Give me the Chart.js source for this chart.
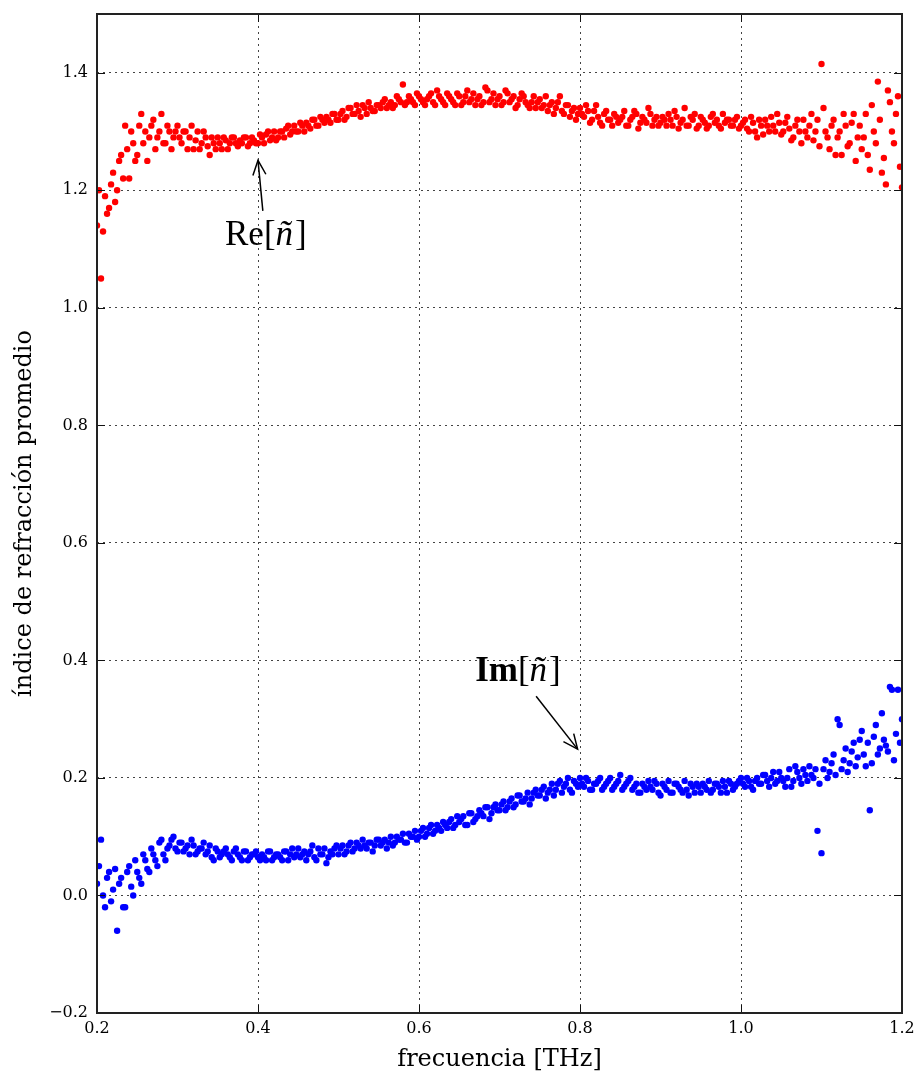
<!DOCTYPE html>
<html>
<head>
<meta charset="utf-8">
<script src="https://cdn.jsdelivr.net/npm/chart.js@4.4.1/dist/chart.umd.min.js"></script>
<style>
  body { margin: 0; background: #fff; }
  #caja { width: 919px; height: 1074px; position: relative; }
</style>
</head>
<body>
<div id="caja"><canvas id="graficoIndice"></canvas></div>
<script>
// frecuencias [THz], primer barrido
const frecuencia = [
  0.200,0.205,0.210,0.215,0.220,0.225,0.230,0.235,0.240,0.245,
  0.250,0.255,0.260,0.265,0.270,0.275,0.280,0.285,0.290,0.295,
  0.300,0.305,0.310,0.315,0.320,0.325,0.330,0.335,0.340,0.345,
  0.350,0.355,0.360,0.365,0.370,0.375,0.380,0.385,0.390,0.395,
  0.400,0.405,0.410,0.415,0.420,0.425,0.430,0.435,0.440,0.445,
  0.450,0.455,0.460,0.465,0.470,0.475,0.480,0.485,0.490,0.495,
  0.500,0.505,0.510,0.515,0.520,0.525,0.530,0.535,0.540,0.545,
  0.550,0.555,0.560,0.565,0.570,0.575,0.580,0.585,0.590,0.595,
  0.600,0.605,0.610,0.615,0.620,0.625,0.630,0.635,0.640,0.645,
  0.650,0.655,0.660,0.665,0.670,0.675,0.680,0.685,0.690,0.695,
  0.700,0.705,0.710,0.715,0.720,0.725,0.730,0.735,0.740,0.745,
  0.750,0.755,0.760,0.765,0.770,0.775,0.780,0.785,0.790,0.795,
  0.800,0.805,0.810,0.815,0.820,0.825,0.830,0.835,0.840,0.845,
  0.850,0.855,0.860,0.865,0.870,0.875,0.880,0.885,0.890,0.895,
  0.900,0.905,0.910,0.915,0.920,0.925,0.930,0.935,0.940,0.945,
  0.950,0.955,0.960,0.965,0.970,0.975,0.980,0.985,0.990,0.995,
  1.000,1.005,1.010,1.015,1.020,1.025,1.030,1.035,1.040,1.045,
  1.050,1.055,1.060,1.065,1.070,1.075,1.080,1.085,1.090,1.095,
  1.100,1.105,1.110,1.115,1.120,1.125,1.130,1.135,1.140,1.145,
  1.150,1.155,1.160,1.165,1.170,1.175,1.180,1.185,1.190,1.195,
  1.200
]

// parte real del indice
const indiceRe = [
  1.14,1.05,1.19,1.17,1.23,1.20,1.26,1.31,1.22,1.28,
  1.26,1.33,1.30,1.29,1.32,1.29,1.33,1.28,1.30,1.29,
  1.31,1.28,1.30,1.29,1.27,1.30,1.28,1.29,1.26,1.28,
  1.29,1.27,1.285,1.28,1.29,1.275,1.28,1.29,1.28,1.285,
  1.28,1.29,1.295,1.285,1.30,1.29,1.30,1.305,1.295,1.31,
  1.30,1.31,1.315,1.305,1.32,1.31,1.32,1.325,1.315,1.33,
  1.32,1.335,1.325,1.34,1.33,1.335,1.345,1.33,1.34,1.335,
  1.345,1.35,1.34,1.35,1.345,1.355,1.38,1.35,1.355,1.345,
  1.36,1.35,1.355,1.365,1.345,1.36,1.35,1.365,1.355,1.345,
  1.36,1.35,1.37,1.355,1.345,1.36,1.35,1.37,1.355,1.345,
  1.36,1.35,1.365,1.355,1.34,1.355,1.36,1.345,1.35,1.34,
  1.355,1.345,1.335,1.35,1.34,1.36,1.33,1.345,1.335,1.32,
  1.34,1.325,1.335,1.32,1.345,1.315,1.33,1.32,1.31,1.325,
  1.32,1.335,1.31,1.325,1.33,1.315,1.32,1.34,1.31,1.325,
  1.315,1.32,1.33,1.31,1.325,1.315,1.34,1.31,1.32,1.305,
  1.325,1.315,1.31,1.33,1.32,1.305,1.315,1.32,1.31,1.325,
  1.31,1.32,1.30,1.315,1.29,1.31,1.32,1.30,1.31,1.33,
  1.295,1.315,1.305,1.29,1.32,1.28,1.30,1.31,1.285,1.32,
  1.415,1.30,1.27,1.32,1.29,1.26,1.31,1.28,1.33,1.29,
  1.27,1.33,1.235,1.30,1.385,1.23,1.21,1.35,1.28,1.36,
  1.205
]

// parte imaginaria del indice
const indiceIm = [
  0.02,0.095,-0.02,0.04,0.01,-0.06,0.03,-0.02,0.05,0.00,
  0.04,0.02,0.06,0.04,0.07,0.05,0.095,0.06,0.085,0.10,
  0.075,0.09,0.08,0.07,0.085,0.075,0.08,0.07,0.085,0.06,
  0.075,0.07,0.08,0.065,0.075,0.07,0.06,0.075,0.065,0.07,
  0.065,0.07,0.06,0.075,0.065,0.07,0.06,0.075,0.07,0.065,
  0.08,0.07,0.06,0.075,0.065,0.08,0.07,0.055,0.075,0.08,
  0.07,0.085,0.075,0.09,0.08,0.085,0.095,0.08,0.09,0.085,
  0.095,0.09,0.08,0.10,0.09,0.095,0.105,0.09,0.10,0.11,
  0.10,0.115,0.105,0.12,0.11,0.115,0.125,0.115,0.13,0.12,
  0.125,0.135,0.12,0.14,0.13,0.145,0.135,0.15,0.14,0.155,
  0.145,0.16,0.15,0.165,0.155,0.17,0.16,0.175,0.165,0.18,
  0.17,0.185,0.175,0.19,0.18,0.195,0.185,0.20,0.175,0.19,
  0.20,0.185,0.195,0.18,0.19,0.20,0.185,0.195,0.18,0.19,
  0.205,0.185,0.195,0.18,0.19,0.175,0.185,0.195,0.18,0.19,
  0.17,0.185,0.195,0.175,0.19,0.18,0.195,0.17,0.185,0.19,
  0.175,0.185,0.195,0.18,0.19,0.175,0.185,0.195,0.18,0.19,
  0.20,0.185,0.195,0.18,0.20,0.19,0.205,0.185,0.21,0.195,
  0.20,0.185,0.215,0.195,0.21,0.19,0.205,0.22,0.20,0.11,
  0.072,0.23,0.21,0.24,0.30,0.215,0.25,0.225,0.26,0.235,
  0.28,0.22,0.145,0.27,0.24,0.31,0.255,0.355,0.23,0.35,
  0.30
]

// segundo barrido, frecuencias intermedias
const frecuenciaB = [
  0.2025,0.2075,0.2125,0.2175,0.2225,0.2275,0.2325,0.2375,0.2425,0.2475,
  0.2525,0.2575,0.2625,0.2675,0.2725,0.2775,0.2825,0.2875,0.2925,0.2975,
  0.3025,0.3075,0.3125,0.3175,0.3225,0.3275,0.3325,0.3375,0.3425,0.3475,
  0.3525,0.3575,0.3625,0.3675,0.3725,0.3775,0.3825,0.3875,0.3925,0.3975,
  0.4025,0.4075,0.4125,0.4175,0.4225,0.4275,0.4325,0.4375,0.4425,0.4475,
  0.4525,0.4575,0.4625,0.4675,0.4725,0.4775,0.4825,0.4875,0.4925,0.4975,
  0.5025,0.5075,0.5125,0.5175,0.5225,0.5275,0.5325,0.5375,0.5425,0.5475,
  0.5525,0.5575,0.5625,0.5675,0.5725,0.5775,0.5825,0.5875,0.5925,0.5975,
  0.6025,0.6075,0.6125,0.6175,0.6225,0.6275,0.6325,0.6375,0.6425,0.6475,
  0.6525,0.6575,0.6625,0.6675,0.6725,0.6775,0.6825,0.6875,0.6925,0.6975,
  0.7025,0.7075,0.7125,0.7175,0.7225,0.7275,0.7325,0.7375,0.7425,0.7475,
  0.7525,0.7575,0.7625,0.7675,0.7725,0.7775,0.7825,0.7875,0.7925,0.7975,
  0.8025,0.8075,0.8125,0.8175,0.8225,0.8275,0.8325,0.8375,0.8425,0.8475,
  0.8525,0.8575,0.8625,0.8675,0.8725,0.8775,0.8825,0.8875,0.8925,0.8975,
  0.9025,0.9075,0.9125,0.9175,0.9225,0.9275,0.9325,0.9375,0.9425,0.9475,
  0.9525,0.9575,0.9625,0.9675,0.9725,0.9775,0.9825,0.9875,0.9925,0.9975,
  1.0025,1.0075,1.0125,1.0175,1.0225,1.0275,1.0325,1.0375,1.0425,1.0475,
  1.0525,1.0575,1.0625,1.0675,1.0725,1.0775,1.0825,1.0875,1.0925,1.0975,
  1.1025,1.1075,1.1125,1.1175,1.1225,1.1275,1.1325,1.1375,1.1425,1.1475,
  1.1525,1.1575,1.1625,1.1675,1.1725,1.1775,1.1825,1.1875,1.1925,1.1975
]

const indiceReB = [
  1.20,1.13,1.16,1.21,1.18,1.25,1.22,1.27,1.30,1.25,
  1.31,1.28,1.25,1.31,1.27,1.30,1.28,1.31,1.27,1.30,
  1.29,1.30,1.27,1.31,1.285,1.27,1.30,1.275,1.29,1.27,
  1.28,1.29,1.27,1.29,1.28,1.285,1.29,1.275,1.29,1.28,
  1.295,1.28,1.30,1.29,1.285,1.30,1.29,1.31,1.30,1.30,
  1.315,1.30,1.31,1.32,1.31,1.325,1.315,1.32,1.33,1.32,
  1.33,1.32,1.34,1.33,1.345,1.325,1.34,1.35,1.335,1.345,
  1.34,1.355,1.345,1.34,1.36,1.35,1.345,1.36,1.35,1.365,
  1.355,1.345,1.36,1.35,1.37,1.355,1.345,1.36,1.35,1.365,
  1.345,1.36,1.35,1.365,1.355,1.345,1.375,1.35,1.365,1.355,
  1.345,1.37,1.35,1.36,1.345,1.365,1.35,1.34,1.36,1.35,
  1.34,1.36,1.345,1.33,1.35,1.335,1.345,1.325,1.34,1.33,
  1.33,1.345,1.315,1.335,1.325,1.31,1.335,1.32,1.33,1.315,
  1.325,1.31,1.32,1.335,1.305,1.325,1.315,1.33,1.32,1.31,
  1.325,1.31,1.32,1.335,1.305,1.32,1.31,1.325,1.33,1.31,
  1.32,1.305,1.325,1.315,1.31,1.33,1.32,1.31,1.32,1.305,
  1.315,1.305,1.325,1.30,1.32,1.295,1.31,1.325,1.30,1.315,
  1.30,1.325,1.285,1.31,1.30,1.32,1.29,1.33,1.30,1.275,
  1.34,1.29,1.31,1.26,1.30,1.33,1.275,1.315,1.25,1.31,
  1.29,1.26,1.345,1.28,1.32,1.255,1.37,1.30,1.33,1.24
]

const indiceImB = [
  0.05,0.00,0.03,-0.01,0.045,0.02,-0.02,0.04,0.015,0.06,
  0.03,0.07,0.045,0.08,0.06,0.09,0.07,0.08,0.095,0.08,
  0.09,0.075,0.085,0.095,0.07,0.08,0.09,0.075,0.065,0.08,
  0.065,0.075,0.07,0.06,0.08,0.065,0.075,0.06,0.07,0.075,
  0.06,0.065,0.075,0.06,0.07,0.065,0.075,0.06,0.08,0.07,
  0.065,0.075,0.07,0.085,0.06,0.07,0.08,0.065,0.07,0.085,
  0.08,0.07,0.085,0.075,0.09,0.08,0.085,0.09,0.075,0.095,
  0.085,0.095,0.09,0.085,0.10,0.095,0.09,0.105,0.10,0.095,
  0.11,0.10,0.115,0.105,0.12,0.11,0.12,0.125,0.115,0.135,
  0.13,0.12,0.14,0.125,0.135,0.14,0.15,0.13,0.15,0.145,
  0.155,0.145,0.16,0.15,0.17,0.16,0.165,0.155,0.175,0.17,
  0.18,0.165,0.18,0.17,0.19,0.175,0.19,0.18,0.195,0.185,
  0.19,0.20,0.18,0.19,0.195,0.18,0.19,0.20,0.185,0.195,
  0.18,0.19,0.20,0.185,0.175,0.19,0.18,0.185,0.195,0.175,
  0.19,0.18,0.175,0.19,0.185,0.175,0.18,0.19,0.175,0.185,
  0.19,0.18,0.175,0.19,0.185,0.195,0.175,0.19,0.185,0.195,
  0.19,0.20,0.185,0.195,0.19,0.205,0.195,0.20,0.19,0.21,
  0.195,0.20,0.185,0.22,0.20,0.215,0.195,0.205,0.215,0.19,
  0.215,0.20,0.225,0.205,0.29,0.23,0.21,0.245,0.22,0.265,
  0.24,0.26,0.225,0.29,0.25,0.265,0.245,0.35,0.275,0.26
]

const ticksX = [0.2, 0.4, 0.6, 0.8, 1.0, 1.2]
const ticksY = [-0.2, 0.0, 0.2, 0.4, 0.6, 0.8, 1.0, 1.2, 1.4]

function armaPuntos (frecs, valores) {
  return frecs.map((f, i) => ({ x: f, y: valores[i] }))
}

function etiqueta (v) {
  let t = Math.abs(v).toFixed(1)
  return v < 0 ? '\u2212' + t : t
}

function flecha (ctx, x1, y1, x2, y2) {
  ctx.beginPath()
  ctx.moveTo(x1, y1)
  ctx.lineTo(x2, y2)
  ctx.stroke()
  let ang = Math.atan2(y2 - y1, x2 - x1)
  let largo = 16
  ctx.beginPath()
  ctx.moveTo(x2 - largo * Math.cos(ang - 0.42), y2 - largo * Math.sin(ang - 0.42))
  ctx.lineTo(x2, y2)
  ctx.lineTo(x2 - largo * Math.cos(ang + 0.42), y2 - largo * Math.sin(ang + 0.42))
  ctx.stroke()
}

// dibuja "Xx[ñ]" con la n en cursiva, centrado en (cx, cy)
function textoIndice (ctx, prefijo, negrita, cx, cy) {
  let fuente = '35px "Liberation Serif", serif'
  let partes = [
    { t: prefijo, f: (negrita ? 'bold ' : '') + fuente },
    { t: '[', f: fuente },
    { t: 'ñ', f: 'italic ' + fuente },
    { t: ']', f: fuente }
  ]
  let total = 0
  partes.forEach(p => { ctx.font = p.f; p.w = ctx.measureText(p.t).width; total += p.w })
  let x = cx - total / 2
  ctx.textBaseline = 'middle'
  ctx.textAlign = 'left'
  partes.forEach(p => { ctx.font = p.f; ctx.fillText(p.t, x, cy); x += p.w + (p.t == 'ñ' ? 2 : 0) })
}

const marco = {
  id: 'marco',
  afterDraw (chart) {
    let ctx = chart.ctx
    let a = chart.chartArea
    let sx = chart.scales.x
    let sy = chart.scales.y
    ctx.save()
    ctx.strokeStyle = '#111'
    ctx.lineWidth = 1
    ticksX.forEach(v => {
      let px = Math.round(sx.getPixelForValue(v)) + 0.5
      ctx.beginPath()
      ctx.moveTo(px, a.bottom); ctx.lineTo(px, a.bottom - 8)
      ctx.moveTo(px, a.top); ctx.lineTo(px, a.top + 8)
      ctx.stroke()
    })
    ticksY.forEach(v => {
      let py = Math.round(sy.getPixelForValue(v)) + 0.5
      ctx.beginPath()
      ctx.moveTo(a.left, py); ctx.lineTo(a.left + 8, py)
      ctx.moveTo(a.right, py); ctx.lineTo(a.right - 8, py)
      ctx.stroke()
    })
    ctx.lineWidth = 2
    ctx.strokeStyle = '#222'
    ctx.strokeRect(a.left, a.top, a.right - a.left, a.bottom - a.top)

    // anotaciones
    ctx.fillStyle = '#000'
    ctx.strokeStyle = '#000'
    ctx.lineWidth = 1.5
    flecha(ctx, sx.getPixelForValue(0.406), sy.getPixelForValue(1.165),
                sx.getPixelForValue(0.400), sy.getPixelForValue(1.251))
    textoIndice(ctx, 'Re', false, sx.getPixelForValue(0.4085), sy.getPixelForValue(1.122))
    flecha(ctx, sx.getPixelForValue(0.7455), sy.getPixelForValue(0.339),
                sx.getPixelForValue(0.797), sy.getPixelForValue(0.249))
    textoIndice(ctx, 'Im', true, sx.getPixelForValue(0.7217), sy.getPixelForValue(0.381))
    ctx.restore()
  }
}

const grafico = new Chart(document.getElementById('graficoIndice'), {
  type: 'scatter',
  data: {
    datasets: [{
      label: 'Re',
      data: armaPuntos(frecuencia, indiceRe).concat(armaPuntos(frecuenciaB, indiceReB)),
      backgroundColor: '#ff0000',
      borderWidth: 0,
      pointRadius: 3.2
    }, {
      label: 'Im',
      data: armaPuntos(frecuencia, indiceIm).concat(armaPuntos(frecuenciaB, indiceImB)),
      backgroundColor: '#0000ff',
      borderWidth: 0,
      pointRadius: 3.2
    }]
  },
  options: {
    responsive: true,
    maintainAspectRatio: false,
    animation: false,
    devicePixelRatio: 1,
    layout: { padding: { top: 14, right: 17, left: 0, bottom: 0 } },
    plugins: { legend: { display: false }, tooltip: { enabled: false } },
    scales: {
      x: {
        type: 'linear',
        min: 0.2,
        max: 1.2,
        afterFit: (s) => { s.height = 61; s.paddingLeft = 0; s.paddingRight = 0 },
        afterBuildTicks: (s) => { s.ticks = ticksX.map(v => ({ value: v })) },
        grid: { color: '#444', lineWidth: 1, drawTicks: false },
        border: { display: false, dash: [2, 4] },
        ticks: {
          padding: 6,
          color: '#000',
          font: { family: '"DejaVu Serif", serif', size: 16 },
          callback: (v) => etiqueta(v)
        },
        title: {
          display: true,
          text: 'frecuencia [THz]',
          color: '#000',
          font: { family: '"DejaVu Serif", serif', size: 24 },
          padding: { top: 0, bottom: 0 }
        }
      },
      y: {
        type: 'linear',
        min: -0.2,
        max: 1.5,
        afterFit: (s) => { s.width = 97; s.paddingTop = 0; s.paddingBottom = 0 },
        afterBuildTicks: (s) => { s.ticks = ticksY.map(v => ({ value: v })) },
        grid: { color: '#444', lineWidth: 1, drawTicks: false },
        border: { display: false, dash: [2, 4] },
        ticks: {
          padding: 9,
          color: '#000',
          font: { family: '"DejaVu Serif", serif', size: 16 },
          callback: (v) => etiqueta(v)
        },
        title: {
          display: true,
          text: 'índice de refracción promedio',
          color: '#000',
          font: { family: '"DejaVu Serif", serif', size: 24 },
          padding: { top: 10, bottom: 6 }
        }
      }
    }
  },
  plugins: [marco]
})
</script>
</body>
</html>
